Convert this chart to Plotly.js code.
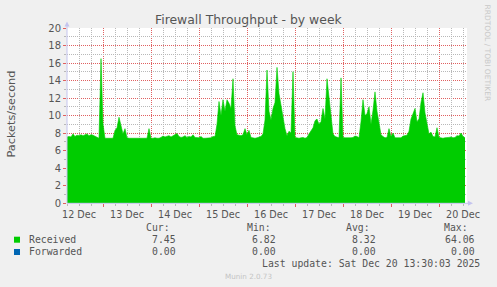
<!DOCTYPE html>
<html>
<head>
<meta charset="utf-8">
<script src="https://cdn.plot.ly/plotly-3.0.1.min.js"></script>
<style>
  html, body { margin: 0; padding: 0; background: #f0f0f0; }
  #chart { width: 497px; height: 287px; }
</style>
</head>
<body>
<div id="chart"></div>
<script>
// ---- data ----
const seriesStart = '2025-12-12 06:00';   // first sample
const stepHours = 1;                      // sample spacing
const received = [
  7.55, 7.6, 7.55, 7.9, 7.6, 7.75, 7.7, 7.8, 7.7, 7.85, 7.9, 7.7, 7.8, 7.75, 7.6, 7.5, 7.4,
  16.5, 9.0, 7.4, 7.4, 7.4, 7.4, 7.4,
  8.3, 8.6, 9.8, 8.8, 7.9, 8.5, 7.45, 7.4, 7.4, 7.45, 7.4, 7.4, 7.45, 7.4, 7.4, 7.45, 7.4, 8.5,
  7.4, 7.4, 7.45, 7.4, 7.4, 7.5, 7.65, 7.55, 7.6, 7.7, 7.55, 7.7, 7.8, 7.95, 7.6, 7.5, 7.55, 7.7, 7.5, 7.6,
  7.55, 7.8, 7.5, 7.45, 7.45, 7.6, 7.4, 7.4, 7.4, 7.45, 7.45, 7.6, 7.6, 9.0, 11.6, 10.0, 11.8, 10.5, 11.8, 11.4,
  10.8, 14.2, 8.8, 7.8, 7.75, 7.7, 7.8, 8.5, 7.8, 8.3, 7.5, 7.45, 7.4, 7.45, 7.5, 7.6, 7.9, 9.5, 15.2, 10.5,
  9.5, 10.8, 11.5, 15.5, 12.5, 11.0, 9.5, 8.5, 7.7, 8.2, 8.0, 15.0, 7.5, 7.45, 7.4, 7.45, 7.5, 7.4, 7.5, 7.9, 8.3,
  8.6, 9.4, 9.6, 9.0, 9.3, 10.8, 9.6, 14.2, 12.0, 10.5, 7.9, 7.6, 7.5, 7.45, 14.3, 7.5, 7.45, 7.45, 7.4, 7.45,
  7.5, 7.65, 7.6, 7.45, 9.3, 11.8, 10.0, 10.2, 11.0, 9.0, 10.6, 12.7, 10.5, 9.2, 7.8, 7.6, 7.45, 7.5, 8.5, 7.6, 8.0,
  7.45, 7.45, 7.4, 7.45, 7.65, 7.7, 7.75, 8.2, 9.6, 10.2, 10.8, 9.3, 9.6, 11.5, 12.6, 10.3, 9.0, 7.9, 8.1, 7.6,
  7.55, 8.6, 7.5, 7.45, 7.4, 7.45, 7.45, 7.5, 7.55, 7.45, 7.5, 7.7, 7.65, 8.0, 7.6, 7.45
];
const forwardedTimes = ['2025-12-12 06:00', '2025-12-20 13:00'];
const forwarded = [0, 0];

const xRange = ['2025-12-12 06:00', '2025-12-20 14:00'];
const days = ['2025-12-12', '2025-12-13', '2025-12-14', '2025-12-15', '2025-12-16', '2025-12-17', '2025-12-18', '2025-12-19', '2025-12-20'];
const dayLabels = ['12 Dec', '13 Dec', '14 Dec', '15 Dec', '16 Dec', '17 Dec', '18 Dec', '19 Dec', '20 Dec'];
const yMajor = [0, 2, 4, 6, 8, 10, 12, 14, 16, 18, 20];
const yMinor = [1, 3, 5, 7, 9, 11, 13, 15, 17, 19];

const seriesNames = ['Received', 'Forwarded'];
const seriesColors = ['#00cc00', '#0066b3'];
const statHeaders = ['Cur:', 'Min:', 'Avg:', 'Max:'];
const receivedStats = ['7.45', '6.82', '8.32', '64.06'];
const forwardedStats = ['0.00', '0.00', '0.00', '0.00'];

const titleText = 'Firewall Throughput - by week';
const yTitle = 'Packets/second';
const lastUpdate = 'Last update: Sat Dec 20 13:30:03 2025';
const footer = 'Munin 2.0.73';
const sideText = 'RRDTOOL / TOBI OETIKER';

// ---- helpers ----
function fmt(ms) { return new Date(ms).toISOString().slice(0, 16).replace('T', ' '); }
const t0 = Date.parse(seriesStart.replace(' ', 'T') + ':00Z');
const receivedTimes = received.map((_, i) => fmt(t0 + i * stepHours * 3600000));

// axis positions: midnights (major grid), 06/12/18 h (minor grid, labels at noon)
const midnights = days.slice(1);
const minorVals = [], minorText = [];
days.forEach((d, i) => {
  [['06', ''], ['12', dayLabels[i]], ['18', '']].forEach(([h, t]) => { minorVals.push(d + ' ' + h + ':00'); minorText.push(t); });
});

const W = 497, H = 287, L = 67, R = 30, T = 28, B = 84;
const PW = W - L - R, PH = H - T - B;
const px = x => (x - L) / PW;
const py = y => (H - B - y) / PH;

const MONO = 'DejaVu Sans Mono, monospace';
const SANS = 'DejaVu Sans, sans-serif';
const TXT = '#555555';
const MAJ = '#e06060';
const MIN = '#b8b8b8';
const AX = '#c4c4ee';

const traces = [
  { x: receivedTimes, y: received, type: 'scatter', mode: 'lines', fill: 'tozeroy',
    fillcolor: seriesColors[0], line: { color: seriesColors[0], width: 0.6 },
    name: seriesNames[0], xaxis: 'x', yaxis: 'y', hoverinfo: 'skip' },
  { x: forwardedTimes, y: forwarded, type: 'scatter', mode: 'lines',
    line: { color: seriesColors[1], width: 0 },
    name: seriesNames[1], xaxis: 'x2', yaxis: 'y2', hoverinfo: 'skip' }
];

const ann = [];
ann.push({ text: titleText, xref: 'paper', yref: 'paper', x: px(248.5), y: py(19.5),
  xanchor: 'center', yanchor: 'middle', showarrow: false, font: { family: SANS, size: 12.4, color: TXT } });
ann.push({ text: yTitle, xref: 'paper', yref: 'paper', x: px(10.5), y: py(114), textangle: -90,
  xanchor: 'center', yanchor: 'middle', showarrow: false, font: { family: SANS, size: 11.3, color: TXT } });
ann.push({ text: sideText, xref: 'paper', yref: 'paper', x: px(487.5), y: py(53), textangle: 90,
  xanchor: 'center', yanchor: 'middle', showarrow: false, font: { family: SANS, size: 7.5, color: '#c8c8c8' } });

const headRight = [172.3, 272.7, 371.7, 470];
const valRight = [178.3, 278.3, 377.7, 476.7];
statHeaders.forEach((h, i) => ann.push({ text: h, xref: 'paper', yref: 'paper', x: px(headRight[i]), y: py(227.3),
  xanchor: 'right', yanchor: 'middle', showarrow: false, font: { family: MONO, size: 9.8, color: TXT } }));
const rowY = [239.7, 251.7];
[receivedStats, forwardedStats].forEach((vals, r) => {
  ann.push({ text: seriesNames[r], xref: 'paper', yref: 'paper', x: px(26.7), y: py(rowY[r]),
    xanchor: 'left', yanchor: 'middle', showarrow: false, font: { family: MONO, size: 9.8, color: TXT } });
  vals.forEach((v, i) => ann.push({ text: v, xref: 'paper', yref: 'paper', x: px(valRight[i]), y: py(rowY[r]),
    xanchor: 'right', yanchor: 'middle', showarrow: false, font: { family: MONO, size: 9.8, color: TXT } }));
});
ann.push({ text: lastUpdate, xref: 'paper', yref: 'paper', x: px(482.3), y: py(263.3),
  xanchor: 'right', yanchor: 'middle', showarrow: false, font: { family: MONO, size: 9.8, color: TXT } });
ann.push({ text: footer, xref: 'paper', yref: 'paper', x: px(248), y: py(276.3),
  xanchor: 'center', yanchor: 'middle', showarrow: false, font: { family: SANS, size: 7.2, color: '#c4c4c4' } });

const shapes = [];
[[236.7, 242.7], [249, 255]].forEach((yy, r) => shapes.push({ type: 'rect', xref: 'paper', yref: 'paper',
  x0: px(14), x1: px(20), y0: py(yy[1]), y1: py(yy[0]), fillcolor: seriesColors[r], line: { width: 0 } }));
shapes.push({ type: 'line', xref: 'paper', yref: 'paper', x0: px(67), x1: px(67), y0: py(203.3), y1: py(25), line: { color: AX, width: 1 } });
shapes.push({ type: 'line', xref: 'paper', yref: 'paper', x0: px(67), x1: px(470), y0: py(203.3), y1: py(203.3), line: { color: AX, width: 1 } });
shapes.push({ type: 'path', xref: 'paper', yref: 'paper',
  path: `M ${px(64.5)} ${py(26.5)} L ${px(69.5)} ${py(26.5)} L ${px(67)} ${py(21.5)} Z`, fillcolor: AX, line: { width: 0 } });
shapes.push({ type: 'path', xref: 'paper', yref: 'paper',
  path: `M ${px(468)} ${py(200.8)} L ${px(468)} ${py(205.8)} L ${px(473)} ${py(203.3)} Z`, fillcolor: AX, line: { width: 0 } });

const layout = {
  width: W, height: H,
  margin: { l: L, r: R, t: T, b: B, pad: 0 },
  paper_bgcolor: '#f0f0f0', plot_bgcolor: '#ffffff',
  showlegend: false,
  xaxis: {
    type: 'date', range: xRange, tickmode: 'array', tickvals: midnights, showticklabels: false,
    showgrid: true, gridcolor: MAJ, griddash: '1px,1px', gridwidth: 1,
    ticks: 'outside', ticklen: 3, tickcolor: MAJ, tickwidth: 1,
    zeroline: false, showline: false
  },
  xaxis2: {
    type: 'date', range: xRange, overlaying: 'x', anchor: 'y', side: 'bottom',
    tickmode: 'array', tickvals: minorVals, ticktext: minorText,
    showgrid: true, gridcolor: MIN, griddash: '1px,1px', gridwidth: 1,
    ticks: 'outside', ticklen: 2, tickcolor: MIN,
    tickfont: { family: SANS, size: 9.6, color: TXT }, ticklabelstandoff: 0, zeroline: false, showline: false
  },
  yaxis: {
    range: [0, 20], tickmode: 'array', tickvals: yMajor,
    showgrid: true, gridcolor: MAJ, griddash: '1px,1px', gridwidth: 1,
    ticks: 'outside', ticklen: 3, tickcolor: MAJ,
    tickfont: { family: SANS, size: 10, color: TXT }, zeroline: false, showline: false
  },
  yaxis2: {
    range: [0, 20], overlaying: 'y', side: 'left', anchor: 'x', tickmode: 'array', tickvals: yMinor,
    showticklabels: false, showgrid: true, gridcolor: MIN, griddash: '1px,1px', gridwidth: 1,
    ticks: 'outside', ticklen: 2, tickcolor: MIN, zeroline: false, showline: false
  },
  annotations: ann,
  shapes: shapes
};

Plotly.newPlot('chart', traces, layout, { staticPlot: true, displayModeBar: false });
</script>
</body>
</html>
